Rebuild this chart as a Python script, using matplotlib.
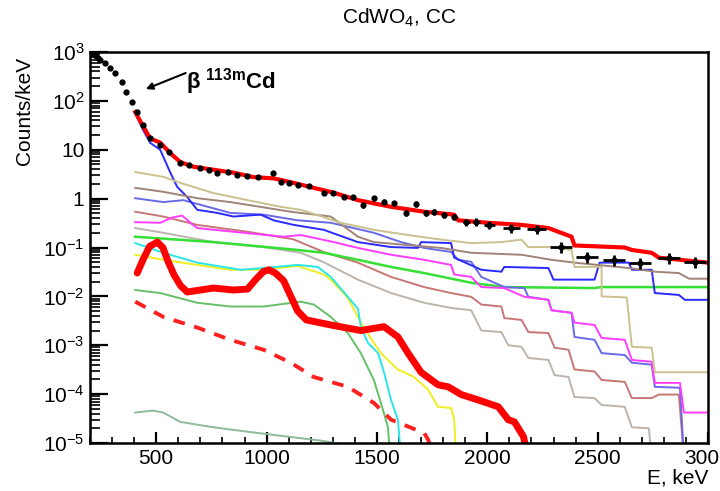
import numpy as np
import matplotlib
matplotlib.use("Agg")
import matplotlib.pyplot as plt
from matplotlib.ticker import MultipleLocator, LogLocator, FuncFormatter, NullFormatter

plt.rcParams["font.family"] = ["Liberation Sans", "DejaVu Sans"]
plt.rcParams["mathtext.fontset"] = "custom"
plt.rcParams["mathtext.rm"] = "Liberation Sans"
plt.rcParams["mathtext.it"] = "Liberation Sans:italic"
plt.rcParams["mathtext.bf"] = "Liberation Sans:bold"

# measured spectrum, low-energy part (113mCd beta), dots only
low_E = [205, 215, 225, 235, 245, 268, 291, 314, 345, 364, 390, 414]
low_val = [955, 890, 830, 760, 690, 600, 470, 370, 245, 150, 95, 59]

# measured spectrum with error bars
d_E = [440, 473, 518, 560, 609, 650, 700, 740, 777, 827, 868, 910, 959, 1027,
       1064, 1100, 1141, 1190, 1259, 1300, 1350, 1390, 1436, 1486, 1530, 1577,
       1632, 1677, 1723, 1760, 1805, 1850, 1905, 1950, 2009, 2109, 2223, 2336,
       2450, 2573, 2691, 2823, 2941]
d_val = [32, 17, 12.6, 8.9, 5.4, 4.8, 4.2, 3.8, 3.4, 3.5, 3.0, 2.95, 2.75, 3.4,
         2.2, 2.1, 1.9, 1.8, 1.32, 1.32, 1.07, 1.07, 0.74, 1.02, 0.87, 0.81,
         0.51, 0.78, 0.51, 0.54, 0.47, 0.42, 0.33, 0.34, 0.29, 0.25, 0.24, 0.102,
         0.065, 0.056, 0.049, 0.062, 0.051]
d_xerr = [5, 5, 5, 5, 5, 5, 5, 5, 5, 5, 5, 5, 5, 5,
          5, 5, 5, 5, 5, 5, 5, 5, 8, 8, 8, 8,
          8, 8, 8, 8, 10, 10, 15, 15, 25, 40, 45, 50,
          50, 50, 50, 50, 50]
d_relerr = [0.05, 0.05, 0.05, 0.05, 0.06, 0.06, 0.06, 0.06, 0.07, 0.07, 0.07, 0.07, 0.08, 0.08,
            0.08, 0.08, 0.09, 0.09, 0.1, 0.1, 0.1, 0.1, 0.12, 0.12, 0.12, 0.12,
            0.15, 0.15, 0.15, 0.15, 0.15, 0.15, 0.18, 0.18, 0.18, 0.2, 0.2, 0.25,
            0.25, 0.25, 0.25, 0.25, 0.25]

# total fit
fit_E = [405, 441, 473, 518, 564, 609, 668, 759, 850, 941, 1032, 1123, 1214, 1305,
         1414, 1564, 1714, 1850, 1868, 2005, 2155, 2277, 2382, 2395, 2623, 2655,
         2745, 2777, 3000]
fit_val = [59, 30, 17, 14, 8.5, 5.6, 4.5, 3.9, 3.4, 2.75, 2.6, 2.1, 1.66, 1.32,
           0.93, 0.68, 0.54, 0.47, 0.36, 0.32, 0.29, 0.25, 0.166, 0.11, 0.10, 0.089,
           0.078, 0.062, 0.049]

# fit components
khaki_E = [405, 532, 609, 759, 914, 1064, 1155, 1200, 1336, 1486, 1641, 1791, 1927,
           2064, 2155, 2186, 2282, 2382, 2395, 2518, 2518, 2632, 2655, 2745, 2759, 3000]
khaki_val = [3.5, 2.8, 2.1, 1.3, 0.93, 0.68, 0.59, 0.51, 0.32, 0.23, 0.18, 0.145, 0.123,
             0.129, 0.145, 0.102, 0.102, 0.089, 0.040, 0.040, 0.010, 0.0095, 0.00093,
             0.00089, 0.00028, 0.00028]

brown_E = [405, 532, 686, 836, 1109, 1291, 1414, 1486, 1641, 1791, 1927, 2155, 2291,
           2395, 2641, 2759, 2868, 2914, 3000]
brown_val = [1.66, 1.38, 1.02, 0.85, 0.54, 0.43, 0.166, 0.129, 0.112, 0.098, 0.078,
             0.071, 0.056, 0.049, 0.038, 0.032, 0.030, 0.023, 0.023]

blue_E = [405, 441, 473, 518, 564, 595, 641, 686, 777, 850, 973, 1032, 1123, 1259,
          1414, 1564, 1686, 1700, 1836, 1850, 1973, 2064, 2077, 2277, 2300, 2486,
          2509, 2641, 2655, 2745, 2759, 2868, 2895, 3000]
blue_val = [56, 25, 13.8, 10, 3.4, 1.74, 1.07, 0.59, 0.51, 0.43, 0.47, 0.36, 0.29, 0.23,
            0.129, 0.102, 0.098, 0.129, 0.123, 0.062, 0.035, 0.032, 0.040, 0.038, 0.022,
            0.022, 0.049, 0.049, 0.035, 0.035, 0.0117, 0.0107, 0.0085, 0.0085]

lblue_E = [405, 532, 623, 836, 986, 1141, 1291, 1486, 1609, 1714, 1836, 1868, 1927,
           1973, 2077, 2168, 2186, 2277, 2291, 2382, 2395, 2486, 2518, 2623, 2655,
           2745, 2759, 2873, 2891]
lblue_val = [1.02, 0.85, 0.93, 0.51, 0.47, 0.36, 0.32, 0.20, 0.129, 0.098, 0.081,
             0.056, 0.051, 0.025, 0.0155, 0.0148, 0.0098, 0.0085, 0.0052, 0.0046,
             0.00148, 0.00129, 0.00069, 0.00063, 0.00044, 0.0004, 0.000141,
             0.000135, 5e-6]

magenta_E = [405, 518, 573, 618, 655, 686, 850, 1077, 1155, 1305, 1414, 1564, 1714,
             1836, 1850, 1927, 1973, 2077, 2168, 2277, 2291, 2382, 2395, 2486, 2518,
             2623, 2655, 2745, 2759, 2873, 2891, 3000]
magenta_val = [0.33, 0.32, 0.41, 0.45, 0.32, 0.25, 0.21, 0.166, 0.18, 0.129, 0.098,
               0.071, 0.056, 0.044, 0.028, 0.025, 0.0155, 0.0148, 0.0098, 0.0085,
               0.0052, 0.0046, 0.0029, 0.0026, 0.00141, 0.00129, 0.0005, 0.00046,
               0.00017, 0.00017, 4.2e-5, 4.2e-5]

rosy_E = [405, 532, 686, 914, 1120, 1259, 1414, 1564, 1714, 1836, 1927, 1973, 2064,
          2077, 2155, 2186, 2277, 2305, 2368, 2395, 2486, 2518, 2623, 2655, 2745,
          2777, 2868, 2891]
rosy_val = [0.54, 0.43, 0.29, 0.21, 0.148, 0.081, 0.049, 0.025, 0.0155, 0.0117, 0.0098,
            0.0068, 0.0062, 0.0036, 0.0033, 0.00186, 0.00178, 0.00089, 0.00081,
            0.00032, 0.00029, 0.000195, 0.000178, 8.3e-5, 8.3e-5, 9.8e-5, 9.8e-5, 5e-6]

gray_E = [405, 532, 759, 986, 1155, 1259, 1414, 1564, 1714, 1836, 1927, 1973, 2064,
          2095, 2155, 2186, 2277, 2305, 2368, 2395, 2486, 2518, 2623, 2655, 2732, 2745]
gray_val = [0.25, 0.20, 0.129, 0.102, 0.078, 0.05, 0.022, 0.0117, 0.0074, 0.0058,
            0.0052, 0.002, 0.00186, 0.001, 0.00093, 0.00055, 0.0005, 0.000245,
            0.000224, 8.7e-5, 8.3e-5, 6.0e-5, 5.5e-5, 2.1e-5, 2.0e-5, 5e-6]

green_E = [405, 759, 1141, 1259, 1414, 1564, 1714, 1927, 2077, 2486, 2518, 3000]
green_val = [0.166, 0.129, 0.089, 0.078, 0.056, 0.040, 0.030, 0.019, 0.0155, 0.0148,
             0.0155, 0.0155]

cyan_E = [405, 532, 686, 882, 986, 1141, 1232, 1291, 1368, 1414, 1427, 1459, 1505,
          1532, 1564, 1595, 1609]
cyan_val = [0.123, 0.078, 0.049, 0.035, 0.038, 0.044, 0.040, 0.025, 0.0098, 0.0056,
            0.0024, 0.00112, 0.00069, 0.00028, 7.6e-5, 3.0e-5, 5e-6]

yellow_E = [405, 532, 686, 836, 986, 1141, 1259, 1291, 1368, 1427, 1486, 1518, 1595,
            1668, 1732, 1777, 1836, 1850, 1859]
yellow_val = [0.071, 0.056, 0.044, 0.035, 0.035, 0.042, 0.028, 0.022, 0.0093, 0.0029,
              0.00112, 0.00069, 0.00032, 0.000224, 0.000123, 5.5e-5, 5.2e-5, 3.0e-5, 5e-6]

peak_E = [414, 440, 470, 505, 530, 555, 580, 610, 641, 700, 759, 850, 914, 950, 985,
          1010, 1040, 1077, 1110, 1141, 1180, 1291, 1427, 1532, 1595, 1641, 1700,
          1777, 1823, 1882, 1959, 2050, 2095, 2123, 2164, 2185]
peak_val = [0.030, 0.056, 0.105, 0.129, 0.10, 0.05, 0.028, 0.0166, 0.0123, 0.0135,
            0.0148, 0.0135, 0.0141, 0.022, 0.032, 0.035, 0.030, 0.021, 0.010, 0.005,
            0.0033, 0.0026, 0.002, 0.0024, 0.00148, 0.00069, 0.00028, 0.000155,
            0.000141, 9.8e-5, 7.6e-5, 5.5e-5, 3.0e-5, 2.7e-5, 1.35e-5, 5e-6]

dash_E = [405, 532, 686, 836, 986, 1109, 1214, 1368, 1486, 1564, 1714, 1732, 1760]
dash_val = [0.0078, 0.0038, 0.0023, 0.00129, 0.00081, 0.00044, 0.000224, 0.000141,
            6.6e-5, 3.0e-5, 1.6e-5, 1.17e-5, 5e-6]

mgreen_E = [405, 518, 686, 836, 986, 1155, 1214, 1291, 1368, 1427, 1486, 1518, 1550, 1560]
mgreen_val = [0.0135, 0.0117, 0.0074, 0.0062, 0.0062, 0.0078, 0.0068, 0.0038, 0.00178,
              0.00069, 0.000195, 6.6e-5, 2.1e-5, 5e-6]

sgreen_E = [405, 486, 532, 609, 759, 914, 1095, 1245, 1382]
sgreen_val = [4.2e-5, 4.6e-5, 4.2e-5, 2.7e-5, 2.1e-5, 1.7e-5, 1.35e-5, 1.12e-5, 8.9e-6]

fig = plt.figure(figsize=(7.2, 4.91), dpi=100)
ax = fig.add_axes([90 / 720, 1 - 443 / 491, (708 - 90) / 720, (443 - 52) / 491])

lw = 1.4
ax.plot(sgreen_E, sgreen_val, color="#8dbb9c", lw=lw)
ax.plot(mgreen_E, mgreen_val, color="#66c066", lw=lw)
ax.plot(dash_E, dash_val, color="#ff2020", lw=2.8, dashes=(3, 2.5))
ax.plot(yellow_E, yellow_val, color="#eeee22", lw=lw)
ax.plot(cyan_E, cyan_val, color="#2ae6e6", lw=lw)
ax.plot(gray_E, gray_val, color="#bdb5ad", lw=lw)
ax.plot(rosy_E, rosy_val, color="#c87676", lw=lw)
ax.plot(green_E, green_val, color="#33e033", lw=1.8)
ax.plot(lblue_E, lblue_val, color="#6a6ae8", lw=lw)
ax.plot(magenta_E, magenta_val, color="#ff3cff", lw=lw)
ax.plot(blue_E, blue_val, color="#2a2aff", lw=lw)
ax.plot(brown_E, brown_val, color="#a08478", lw=lw)
ax.plot(khaki_E, khaki_val, color="#c9c28e", lw=lw)
ax.plot(peak_E, peak_val, color="#ff0000", lw=5, solid_joinstyle="round",
        solid_capstyle="round")
ax.plot(fit_E, fit_val, color="#ff0000", lw=3)

ax.plot(low_E, low_val, "o", color="black", ms=3.5)
d_val = np.array(d_val)
ax.errorbar(d_E, d_val, xerr=d_xerr, yerr=d_val * np.array(d_relerr),
            fmt="o", color="black", ms=3.5, elinewidth=2, capsize=0)

ax.set_yscale("log")
ax.set_xlim(200, 3000)
ax.set_ylim(1e-5, 1e3)

ax.xaxis.set_major_locator(MultipleLocator(500))
ax.xaxis.set_minor_locator(MultipleLocator(100))
ax.yaxis.set_major_locator(LogLocator(base=10, numticks=20))
ax.yaxis.set_minor_locator(LogLocator(base=10, subs=np.arange(2, 10), numticks=20))
ax.yaxis.set_minor_formatter(NullFormatter())


def ylab(v, pos):
    e = int(round(np.log10(v)))
    if e == 0:
        return "1"
    if e == 1:
        return "10"
    return "$10^{%d}$" % e


ax.yaxis.set_major_formatter(FuncFormatter(ylab))

ax.tick_params(which="both", direction="in", top=False, right=False, labelsize=15)
ax.tick_params(axis="y", which="major", length=13, width=1.6, pad=4)
ax.tick_params(axis="y", which="minor", length=7, width=1.2)
ax.tick_params(axis="x", which="major", length=8, width=1.6, pad=4)
ax.tick_params(axis="x", which="minor", length=4.5, width=1.2)
for s in ax.spines.values():
    s.set_linewidth(1.8)

# beta 113mCd annotation
ax.annotate("", xy=(441, 166), xytext=(645, 390),
            arrowprops=dict(arrowstyle="-|>", color="black", lw=1.5, mutation_scale=10))
ax.text(636, 182, "β", fontsize=16, fontweight="bold", va="baseline", ha="left")
ax.text(723, 182, r"$^{\mathbf{113m}}$Cd", fontsize=16, fontweight="bold",
        va="baseline", ha="left")

fig.text(399 / 720, 1 - 18 / 491, r"CdWO$_4$, CC", fontsize=15, ha="center", va="center")
fig.text(25 / 720, 1 - 57 / 491, "Counts/keV", fontsize=15, rotation=90,
         ha="center", va="top")
fig.text(708 / 720, 1 - 478 / 491, "E, keV", fontsize=15, ha="right", va="center")

fig.savefig("out.png", dpi=100)
